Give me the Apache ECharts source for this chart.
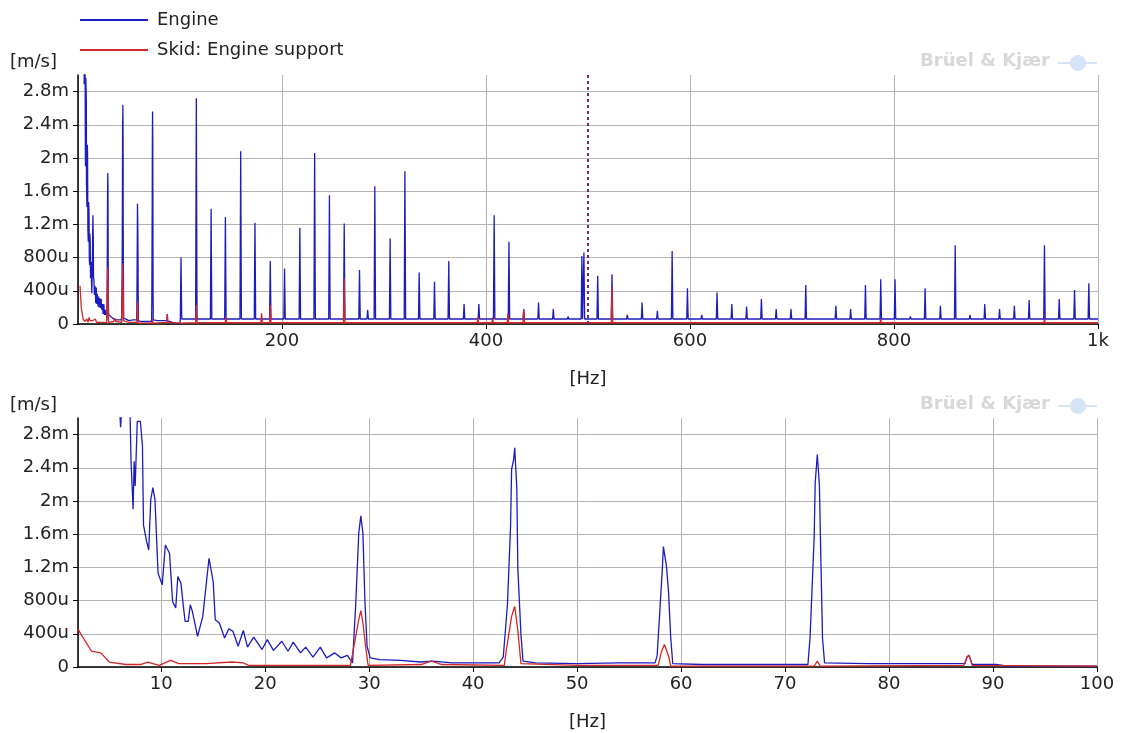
<!DOCTYPE html>
<html>
<head>
<meta charset="utf-8">
<script src="https://cdn.jsdelivr.net/npm/echarts@6/dist/echarts.min.js"></script>
<style>
  html, body { margin: 0; padding: 0; background: #fff; }
  #main { width: 1122px; height: 733px; }
</style>
</head>
<body>
<div id="main"></div>
<script>
// values in mm/s (axis shows them as m / u of m/s)
// 2..100 Hz detail (lower plot, also the start of the upper plot)
var engineLow = [
  [2,6.5],[3,6.0],[4,5.2],[5,4.4],[5.8,3.4],[6.0,3.1],[6.1,2.89],[6.2,3.1],[6.6,3.6],[7.0,3.1],
  [7.1,2.48],[7.3,1.9],[7.4,2.48],[7.5,2.18],[7.7,2.96],[8.0,2.96],[8.2,2.66],[8.3,1.71],[8.6,1.51],
  [8.8,1.41],[9.0,2.02],[9.2,2.16],[9.4,2.02],[9.7,1.13],[10.1,0.99],[10.4,1.47],[10.8,1.37],
  [11.1,0.79],[11.4,0.71],[11.6,1.09],[11.9,1.01],[12.1,0.77],[12.3,0.55],[12.6,0.55],[12.8,0.75],
  [13.0,0.67],[13.5,0.37],[14.0,0.61],[14.6,1.31],[15.0,1.03],[15.2,0.57],[15.6,0.53],[16.1,0.35],
  [16.5,0.46],[16.9,0.43],[17.4,0.25],[17.9,0.44],[18.3,0.24],[18.9,0.36],[19.7,0.21],[20.2,0.33],
  [20.8,0.20],[21.6,0.31],[22.2,0.19],[22.7,0.30],[23.4,0.17],[23.9,0.24],[24.6,0.12],[25.3,0.24],
  [25.9,0.11],[26.7,0.17],[27.3,0.11],[27.9,0.14],[28.4,0.05],[28.7,0.73],[29.0,1.61],[29.2,1.82],
  [29.4,1.61],[29.6,0.77],[29.8,0.25],[30.1,0.11],[31,0.09],[33,0.08],[35,0.06],[36.1,0.07],
  [38,0.05],[40,0.05],[42.5,0.05],[42.9,0.12],[43.3,0.75],[43.6,1.69],[43.7,2.38],[43.9,2.50],
  [44.0,2.64],[44.2,2.16],[44.3,1.19],[44.6,0.39],[44.8,0.07],[46,0.05],[50,0.04],[54,0.05],
  [57.5,0.05],[57.7,0.14],[58.0,0.77],[58.2,1.19],[58.3,1.45],[58.6,1.21],[58.8,0.89],[59.0,0.36],
  [59.2,0.04],[62,0.03],[66,0.03],[70,0.03],[72.2,0.03],[72.4,0.35],[72.6,0.95],[72.8,1.57],
  [72.9,2.22],[73.1,2.56],[73.3,2.2],[73.4,1.57],[73.6,0.35],[73.8,0.05],[78,0.04],[84,0.04],
  [87.3,0.04],[87.5,0.12],[87.7,0.14],[88.0,0.03],[90.3,0.03],[91.4,0.01],[95,0.01],[100,0.01]
];
var skidLow = [
  [2,0.46],[2.3,0.39],[2.8,0.29],[3.3,0.19],[4.2,0.17],[5.0,0.06],[6.6,0.03],[8.0,0.03],[8.7,0.06],
  [9.8,0.02],[10.9,0.08],[11.7,0.04],[14.3,0.04],[16.8,0.06],[17.9,0.05],[18.4,0.02],[28.2,0.02],
  [28.6,0.29],[29.0,0.57],[29.2,0.68],[29.4,0.53],[29.7,0.21],[29.9,0.02],[35,0.03],[36,0.07],
  [37,0.03],[43.0,0.02],[43.2,0.21],[43.7,0.61],[44.0,0.73],[44.3,0.44],[44.6,0.04],[50,0.02],
  [57.8,0.02],[58.1,0.18],[58.4,0.27],[58.8,0.13],[59.0,0.01],[72.8,0.01],[73.1,0.07],[73.4,0.01],
  [87.2,0.02],[87.5,0.12],[87.7,0.14],[88.0,0.02],[100,0.01]
];

// harmonic peaks above 100 Hz (upper plot): frequency, peak level
var enginePeakHz = [101, 116, 130.5, 144.5, 159.5, 173.5, 188.5, 202.5, 217.5, 232, 246.5, 261,
  276, 284, 291, 306, 320.5, 334.5, 349.5, 363.5, 378.5, 393, 408, 422.5, 437, 451.5, 466, 480.5,
  494, 496, 509.5, 523.5, 538.5, 553, 568, 582.5, 597.5, 611.5, 626.5, 641, 655.5, 670, 684.5,
  699, 713.5, 728, 743, 757.5, 772, 787, 801, 816, 830.5, 845.5, 860, 874.5, 889, 903.5, 918,
  932.5, 947.5, 962, 977, 991];
var enginePeakVal = [0.80, 2.72, 1.39, 1.29, 2.08, 1.22, 0.76, 0.67, 1.16, 2.06, 1.55, 1.21,
  0.65, 0.17, 1.66, 1.03, 1.84, 0.62, 0.51, 0.76, 0.24, 0.24, 1.31, 0.99, 0.18, 0.26, 0.18, 0.09,
  0.82, 0.86, 0.58, 0.60, 0.11, 0.26, 0.16, 0.88, 0.43, 0.11, 0.38, 0.24, 0.21, 0.30, 0.18,
  0.18, 0.47, 0.07, 0.22, 0.18, 0.47, 0.54, 0.54, 0.09, 0.43, 0.22, 0.95, 0.11, 0.24, 0.18, 0.22,
  0.29, 0.95, 0.30, 0.41, 0.49];
var skidPeakHz = [116, 145, 180, 188.5, 261, 392, 406.5, 421.5, 437, 523.5, 787, 947.5];
var skidPeakVal = [0.23, 0.08, 0.13, 0.23, 0.55, 0.08, 0.08, 0.13, 0.17, 0.45, 0.06, 0.06];
var engineFloor = 0.06;
var skidFloor = 0.015;

var cursorHz = 500;
var yTicks = ['0', '400u', '800u', '1.2m', '1.6m', '2m', '2.4m', '2.8m'];

function spectrum(low, hz, val, floor) {
  var out = low.slice();
  for (var i = 0; i < hz.length; i++) {
    out.push([hz[i] - 0.7, floor], [hz[i], val[i]], [hz[i] + 0.7, floor]);
  }
  out.push([1000, floor]);
  return out;
}

var BLUE = '#1c1cc0', RED = '#d42626';
var FONT = 'DejaVu Sans';
var txt = { color: '#222', fontFamily: FONT, fontSize: 18 };

function yAxis(gi) {
  return {
    type: 'value', gridIndex: gi, min: 0, max: 3.0, interval: 0.4,
    axisLine: { show: true, lineStyle: { color: '#000', width: 1.5 } },
    axisTick: { show: true, length: 5, lineStyle: { color: '#000' } },
    axisLabel: Object.assign({}, txt, {
      margin: 9, showMaxLabel: false,
      formatter: function (v) { var k = Math.round(v / 0.4); return yTicks[k] || ''; }
    }),
    splitLine: { show: true, showMaxLine: false, lineStyle: { color: '#b4b4b4', width: 1 } }
  };
}
function xAxis(gi, opts) {
  return Object.assign({
    type: 'value', gridIndex: gi,
    name: '[Hz]', nameLocation: 'middle', nameGap: 46, nameTextStyle: txt,
    axisLine: { show: true, onZero: false, lineStyle: { color: '#000', width: 1.5 } },
    axisTick: { show: true, length: 5, lineStyle: { color: '#000' } },
    splitLine: { show: true, lineStyle: { color: '#b4b4b4', width: 1 } }
  }, opts);
}
function brand(top) {
  return [
    { type: 'text', right: 72, top: top, style: { text: 'Brüel & Kjær', fill: '#d8d8d8',
      font: 'bold 18px ' + FONT } },
    { type: 'circle', shape: { cx: 1078, cy: top + 11, r: 8 }, style: { fill: '#d5e4f6' } },
    { type: 'line', shape: { x1: 1058, y1: top + 11, x2: 1097, y2: top + 11 },
      style: { stroke: '#d5e4f6', lineWidth: 2 } }
  ];
}

var myChart = echarts.init(document.getElementById('main'));
var option = {
  animation: false,
  backgroundColor: '#fff',
  legend: {
    orient: 'vertical', left: 75, top: 6, itemGap: 12,
    icon: 'rect', itemWidth: 68, itemHeight: 2,
    textStyle: Object.assign({}, txt, { padding: [0, 0, 0, 4] }),
    data: ['Engine', 'Skid: Engine support']
  },
  graphic: [
    { type: 'text', left: 10, top: 53, style: { text: '[m/s]', fill: '#222', font: '18px ' + FONT } },
    { type: 'text', left: 10, top: 396, style: { text: '[m/s]', fill: '#222', font: '18px ' + FONT } }
  ].concat(brand(52), brand(395)),
  grid: [
    { left: 78, right: 24, top: 75, height: 249 },
    { left: 78, right: 25, top: 418, height: 249 }
  ],
  xAxis: [
    xAxis(0, { min: 0, max: 1000, interval: 200,
      axisLabel: Object.assign({}, txt, { margin: 8, showMinLabel: false,
        formatter: function (v) { return v === 1000 ? '1k' : String(v); } }) }),
    xAxis(1, { min: 2, max: 100, splitNumber: 10, minInterval: 10, maxInterval: 10,
      axisLabel: Object.assign({}, txt, { margin: 8, showMinLabel: false }) })
  ],
  yAxis: [yAxis(0), yAxis(1)],
  series: [
    { name: 'Engine', type: 'line', xAxisIndex: 0, yAxisIndex: 0, symbol: 'none', color: BLUE,
      lineStyle: { width: 1.3 }, data: spectrum(engineLow, enginePeakHz, enginePeakVal, engineFloor),
      markLine: { silent: true, symbol: 'none', label: { show: false },
        lineStyle: { color: '#6a2c6e', type: [3, 3], width: 2 }, data: [{ xAxis: cursorHz }] } },
    { name: 'Skid: Engine support', type: 'line', xAxisIndex: 0, yAxisIndex: 0, symbol: 'none',
      color: RED, lineStyle: { width: 1.3 }, data: spectrum(skidLow, skidPeakHz, skidPeakVal, skidFloor) },
    { name: 'Engine', type: 'line', xAxisIndex: 1, yAxisIndex: 1, symbol: 'none', color: BLUE,
      lineStyle: { width: 1.3 }, data: engineLow },
    { name: 'Skid: Engine support', type: 'line', xAxisIndex: 1, yAxisIndex: 1, symbol: 'none',
      color: RED, lineStyle: { width: 1.3 }, data: skidLow }
  ]
};
myChart.setOption(option);
</script>
</body>
</html>
